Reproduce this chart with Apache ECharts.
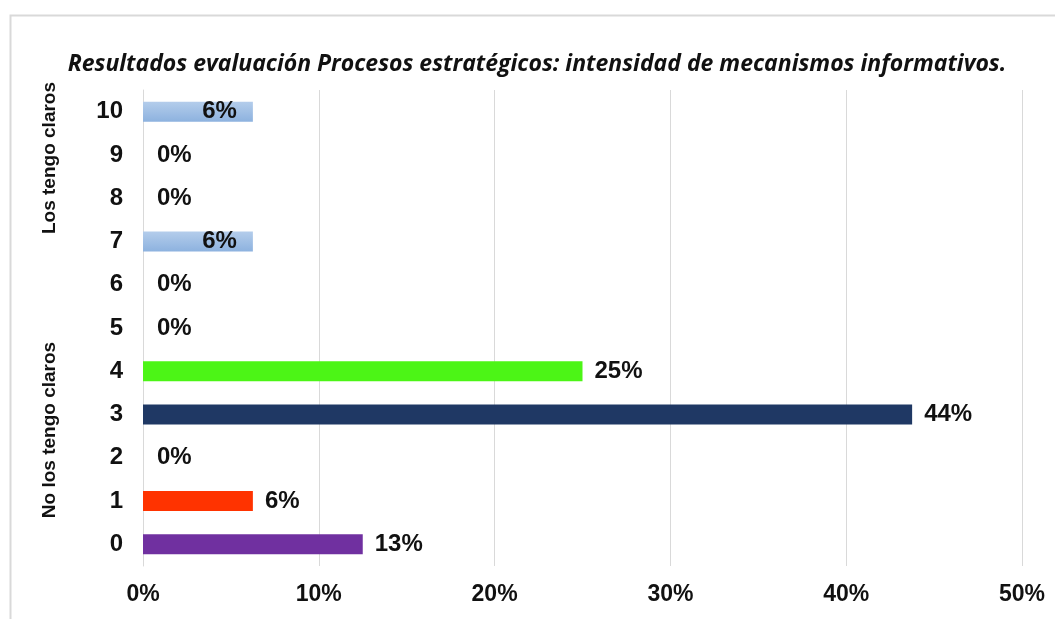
<!DOCTYPE html>
<html>
<head>
<meta charset="utf-8">
<script src="https://cdn.jsdelivr.net/npm/echarts@6/dist/echarts.min.js"></script>
<style>
html,body{margin:0;padding:0;background:#fff;}
#chart{width:1055px;height:619px;}
</style>
</head>
<body>
<div id="chart"></div>
<script>
const titleText = 'Resultados evaluación Procesos estratégicos: intensidad de mecanismos informativos.';
const categories = ['0','1','2','3','4','5','6','7','8','9','10'];
const values = [12.5, 6.25, 0, 43.75, 25, 0, 0, 6.25, 0, 0, 6.25];
const barColors = ['#7030a0','#ff3300','#cccccc','#1f3864','#4cf516','#cccccc','#cccccc','blue','#cccccc','#cccccc','blue'];
const xTicks = [0, 10, 20, 30, 40, 50];
const groupLabels = ['Los tengo claros', 'No los tengo claros'];

const chart = echarts.init(document.getElementById('chart'), null, {renderer:'canvas'});
const FONT = '"Liberation Sans", Arial, sans-serif';

const blueGrad = new echarts.graphic.LinearGradient(0,0,0,1,[
  {offset:0,color:'#b4cdeb'},{offset:1,color:'#8db2df'}
]);

const data = values.map((v,i)=>{
  const isBlue = barColors[i]==='blue';
  return {
    value: v,
    itemStyle: {color: isBlue ? blueGrad : barColors[i]},
    label: isBlue ? {position:'insideRight', distance:16} : {position:'right', distance: v===0 ? 14 : 12}
  };
});

chart.setOption({
  animation:false,
  backgroundColor:'#fff',
  title:{
    text: titleText,
    left: 532, textAlign:'center', top: 48,
    textStyle:{fontFamily:'"Open Sans", sans-serif', fontStyle:'italic', fontWeight:'bold', fontSize:23, color:'#111'}
  },
  grid:{left:143, right:33, top:90, bottom:53, containLabel:false},
  xAxis:{
    type:'value', min:0, max:50, interval:10,
    axisLine:{show:false}, axisTick:{show:false},
    splitLine:{show:true, lineStyle:{color:'#d9d9d9', width:1}},
    axisLabel:{formatter:v=>v+'%', margin:17, color:'#111', fontFamily:FONT, fontWeight:'bold', fontSize:23}
  },
  yAxis:{
    type:'category', data:categories,
    axisLine:{show:true, lineStyle:{color:'#d9d9d9'}}, axisTick:{show:false},
    axisLabel:{margin:20, color:'#111', fontFamily:FONT, fontWeight:'bold', fontSize:24}
  },
  series:[{
    type:'bar', data:data, barWidth:20,
    label:{show:true, formatter:p=>Math.round(p.value)+'%', color:'#111', fontFamily:FONT, fontWeight:'bold', fontSize:24}
  }],
  graphic:[
    {type:'rect', shape:{x:10.5,y:15.5,width:1100,height:700}, style:{fill:null, stroke:'#d9d9d9', lineWidth:2}, silent:true, z:-1},
    {type:'text', x:50, y:158, rotation:Math.PI/2, style:{text:groupLabels[0], fill:'#111', font:'bold 19px "Liberation Sans", Arial, sans-serif', textAlign:'center', textVerticalAlign:'middle'}},
    {type:'text', x:50, y:430, rotation:Math.PI/2, style:{text:groupLabels[1], fill:'#111', font:'bold 19px "Liberation Sans", Arial, sans-serif', textAlign:'center', textVerticalAlign:'middle'}}
  ]
});
</script>
</body>
</html>
